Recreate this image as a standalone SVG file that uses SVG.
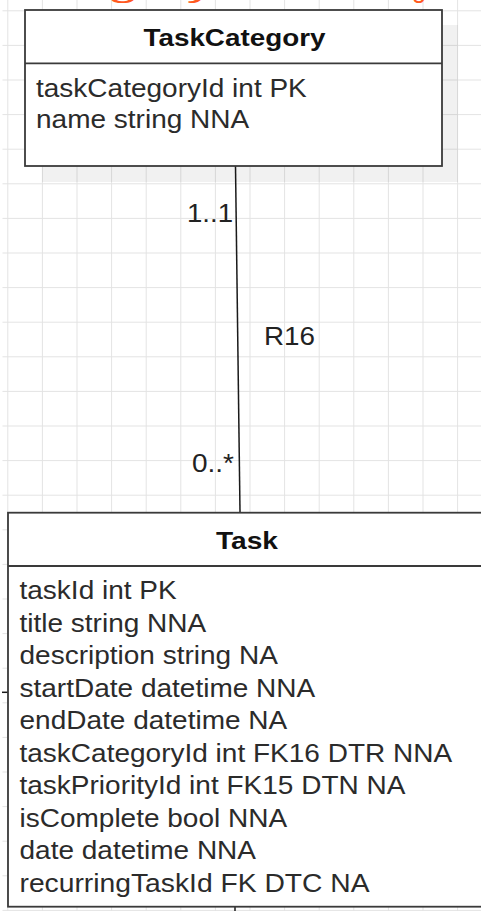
<svg xmlns="http://www.w3.org/2000/svg" width="481" height="911" viewBox="0 0 481 911">
<style>
.t{font-family:"Liberation Sans",Arial,sans-serif;font-size:25.5px;fill:#2b2b2b}
.h{font-family:"Liberation Sans",Arial,sans-serif;font-size:24.5px;font-weight:bold;fill:#111;text-anchor:middle}
.lbl{font-family:"Liberation Sans",Arial,sans-serif;font-size:25.5px;fill:#222}
.o{font-family:"Liberation Sans",Arial,sans-serif;font-size:25.5px;fill:#ff5a1f}
.box{fill:#fff;stroke:#3a3a3a;stroke-width:1.8}
.sep{stroke:#3a3a3a;stroke-width:1.8}
.edge{stroke:#1a1a1a;stroke-width:1.5;fill:none}
</style>
<defs>
<pattern id="grid" patternUnits="userSpaceOnUse" x="7.3" y="10.3" width="34.6" height="34.6">
<path d="M0 0.5H34.6M0.5 0V34.6" stroke="#e3e3e3" stroke-width="1" fill="none"/>
</pattern>
</defs>
<rect x="0" y="0" width="481" height="911" fill="#fff"/>
<rect x="2.5" y="0" width="478.5" height="911" fill="url(#grid)"/>
<text class="o" x="-7" y="-2" textLength="221" lengthAdjust="spacingAndGlyphs">Category</text>
<text class="o" x="412" y="-2">g</text>
<g id="connectors">
<line class="edge" x1="235.5" y1="166" x2="240" y2="512"/>
<line class="edge" x1="2" y1="692.3" x2="8" y2="692.3"/>
<line class="edge" x1="235" y1="907" x2="235" y2="911"/>
<text class="lbl" x="233" y="222.3" text-anchor="end" textLength="46" lengthAdjust="spacingAndGlyphs">1..1</text>
<text class="lbl" x="264" y="345" textLength="51" lengthAdjust="spacingAndGlyphs">R16</text>
<text class="lbl" x="192" y="472.3" textLength="42" lengthAdjust="spacingAndGlyphs">0..*</text>
</g>
<g id="TaskCategory">
<rect x="42" y="25" width="416" height="157" fill="#000" opacity="0.055"/>
<rect class="box" x="25" y="10" width="417" height="156"/>
<line class="sep" x1="25" y1="63.3" x2="442" y2="63.3"/>
<text class="h" x="234.5" y="45.7" textLength="182" lengthAdjust="spacingAndGlyphs">TaskCategory</text>
<text class="t" x="36" y="96.7" textLength="270.8" lengthAdjust="spacingAndGlyphs">taskCategoryId int PK</text>
<text class="t" x="36" y="128.3" textLength="213.2" lengthAdjust="spacingAndGlyphs">name string NNA</text>
</g>
<g id="Task">
<rect class="box" x="8" y="512.7" width="478" height="394"/>
<line class="sep" x1="8" y1="566" x2="486" y2="566"/>
<text class="h" x="247" y="549.3" textLength="62" lengthAdjust="spacingAndGlyphs">Task</text>
<text class="t" x="19.5" y="599" textLength="157.2" lengthAdjust="spacingAndGlyphs">taskId int PK</text>
<text class="t" x="19.5" y="631.5" textLength="186.7" lengthAdjust="spacingAndGlyphs">title string NNA</text>
<text class="t" x="19.5" y="664" textLength="258.3" lengthAdjust="spacingAndGlyphs">description string NA</text>
<text class="t" x="19.5" y="696.5" textLength="295.7" lengthAdjust="spacingAndGlyphs">startDate datetime NNA</text>
<text class="t" x="19.5" y="729" textLength="267.7" lengthAdjust="spacingAndGlyphs">endDate datetime NA</text>
<text class="t" x="19.5" y="761.5" textLength="432.6" lengthAdjust="spacingAndGlyphs">taskCategoryId int FK16 DTR NNA</text>
<text class="t" x="19.5" y="794" textLength="385.9" lengthAdjust="spacingAndGlyphs">taskPriorityId int FK15 DTN NA</text>
<text class="t" x="19.5" y="826.5" textLength="267.6" lengthAdjust="spacingAndGlyphs">isComplete bool NNA</text>
<text class="t" x="19.5" y="859" textLength="236.5" lengthAdjust="spacingAndGlyphs">date datetime NNA</text>
<text class="t" x="19.5" y="891.5" textLength="350.1" lengthAdjust="spacingAndGlyphs">recurringTaskId FK DTC NA</text>
</g>
</svg>
